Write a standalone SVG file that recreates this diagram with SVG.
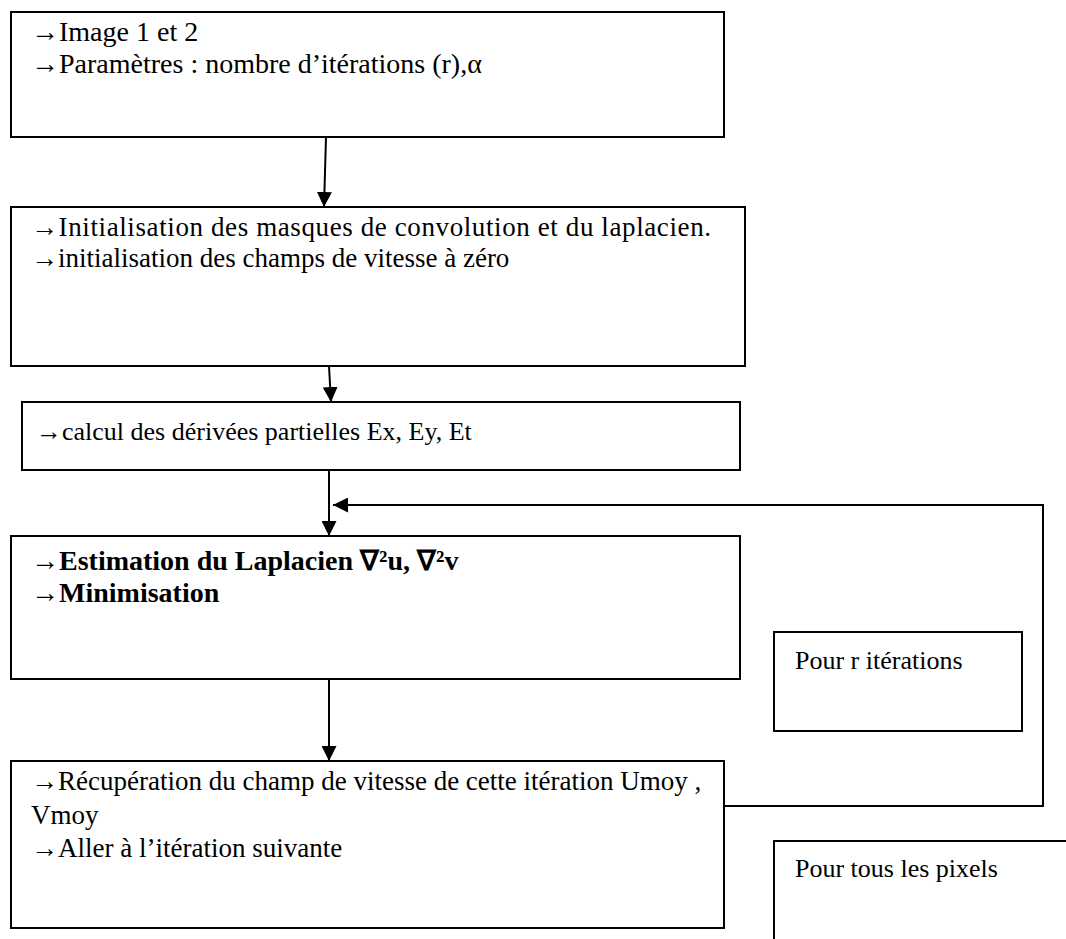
<svg xmlns="http://www.w3.org/2000/svg" width="1066" height="939" viewBox="0 0 1066 939">
<style>
.box{fill:#fff;stroke:#000;stroke-width:2}
.t{font-family:"Liberation Serif","Times New Roman",serif;font-size:27px;fill:#000}
.b{font-weight:bold}
.c{fill:none;stroke:#000;stroke-width:2}
</style>
<defs>
<marker id="ah" viewBox="0 0 10 10" refX="10" refY="5" markerWidth="15" markerHeight="15" markerUnits="userSpaceOnUse" orient="auto">
<path d="M0,0 L10,5 L0,10 z" fill="#000"/>
</marker>
</defs>
<rect width="1066" height="939" fill="#fff"/>
<g id="n1">
<rect class="box" x="11" y="12" width="713" height="125"/>
<text class="t" x="31" y="41" style="font-size:28px">→Image 1 et 2</text>
<text class="t" x="31" y="73" style="font-size:28px">→Paramètres : nombre d’itérations (r),α</text>
</g>
<g id="n2">
<rect class="box" x="11" y="207" width="734" height="159"/>
<text class="t" x="31" y="236" style="font-size:27px" textLength="680">→Initialisation des masques de convolution et du laplacien.</text>
<text class="t" x="31" y="267" style="font-size:27px">→initialisation des champs de vitesse à zéro</text>
</g>
<g id="n3">
<rect class="box" x="22" y="402" width="718" height="68"/>
<text class="t" x="36" y="440" style="font-size:26px">→calcul des dérivées partielles Ex, Ey, Et</text>
</g>
<g id="n4">
<rect class="box" x="11" y="536" width="729" height="143"/>
<text class="t b" x="31" y="570" style="font-size:28px">→Estimation du Laplacien ∇²u, ∇²v</text>
<text class="t b" x="31" y="602" style="font-size:28px">→Minimisation</text>
</g>
<g id="n5">
<rect class="box" x="11" y="761" width="713" height="167"/>
<text class="t" x="31" y="790">→Récupération du champ de vitesse de cette itération Umoy ,</text>
<text class="t" x="31" y="824">Vmoy</text>
<text class="t" x="31" y="857">→Aller à l’itération suivante</text>
</g>
<g id="n6">
<rect class="box" x="774" y="632" width="248" height="99"/>
<text class="t" x="795" y="669" style="font-size:26px">Pour r itérations</text>
</g>
<g id="n7">
<rect class="box" x="774" y="841" width="300" height="110"/>
<text class="t" x="795" y="877" style="font-size:26px">Pour tous les pixels</text>
</g>
<g id="connectors">
<path class="c" d="M326,137 L324,207" marker-end="url(#ah)"/>
<path class="c" d="M329,366 L331,402" marker-end="url(#ah)"/>
<path class="c" d="M329,470 L329,536" marker-end="url(#ah)"/>
<path class="c" d="M329,679 L329,761" marker-end="url(#ah)"/>
<path class="c" d="M724,806 L1043,806 L1043,505 L333,505" marker-end="url(#ah)"/>
</g>
</svg>
